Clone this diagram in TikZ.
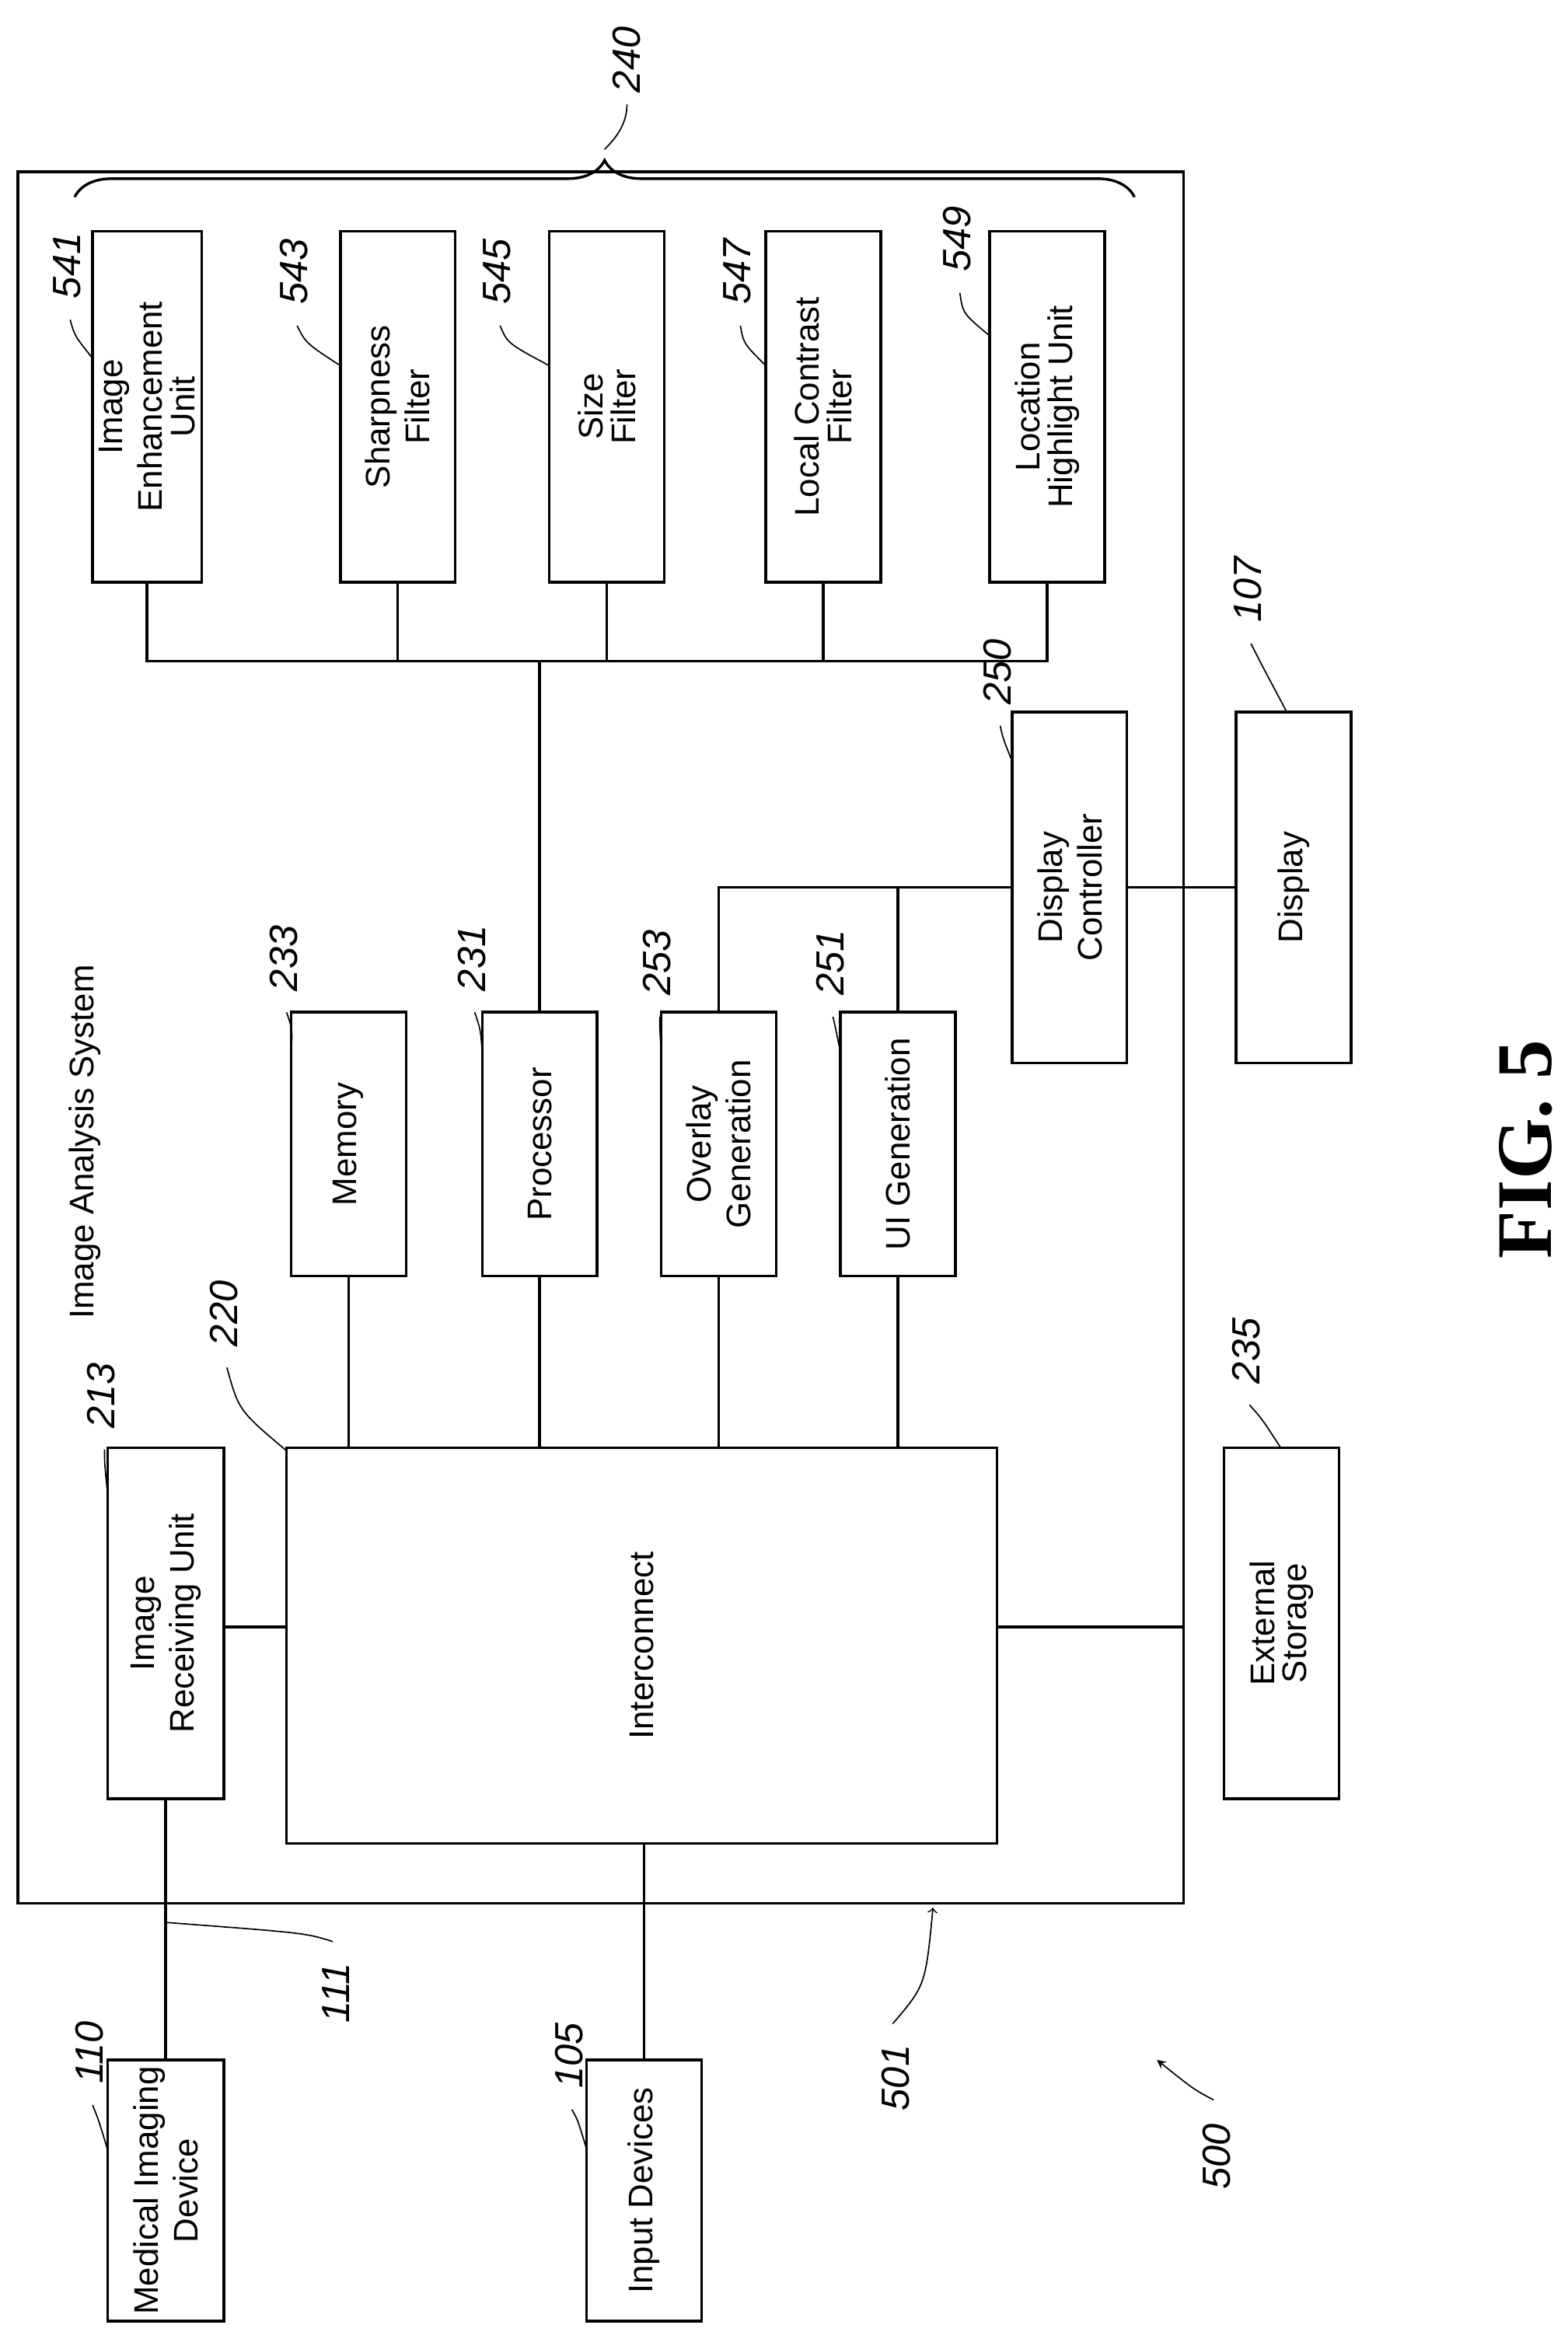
\documentclass[tikz,border=0pt]{standalone}
\usepackage{fontspec}
\setmainfont{Liberation Sans}
\usetikzlibrary{calc,decorations.pathreplacing}

\tikzset{
  box/.style={draw, line width=1pt, inner sep=0pt, font=\fontsize{13}{15}\selectfont},
  num/.style={rotate=90, font=\fontsize{15}{15}\selectfont\itshape},
  lead/.style={line width=0.5pt},
}
% block from (x1,y1) to (x2,y2) in picture pixels, text turned upright-left
\newcommand\blk[6]{%
  \node[box, minimum width={(#4-#2)*0.02cm}, minimum height={(#5-#3)*0.02cm}]
    (#1) at ({(#2+#4)/2},{-(#3+#5)/2}) {\rotatebox{90}{\shortstack{#6}}};}

\begin{document}
\begin{tikzpicture}[x=0.02cm,y=0.02cm]
    \useasboundingbox (0,0) rectangle (1050,-1567);

    % outer system box
    \node[box, minimum width={781*0.02cm}, minimum height={1160*0.02cm}] (sys) at (402.5,-695) {};
    \node[rotate=90, font=\fontsize{13}{15}\selectfont] (sysl) at (57,-765) {Image Analysis System};

    % filters
    \blk{ieu}{62}{155}{135}{390}{Image\\Enhancement\\Unit}
    \blk{shf}{228}{155}{305}{390}{Sharpness\\Filter}
    \blk{szf}{368}{155}{445}{390}{Size\\Filter}
    \blk{lcf}{513}{155}{590}{390}{Local Contrast\\Filter}
    \blk{lhu}{663}{155}{740}{390}{Location\\Highlight Unit}

    % middle blocks
    \blk{mem}{195}{678}{272}{855}{Memory}
    \blk{proc}{323}{678}{400}{855}{Processor}
    \blk{ovl}{443}{678}{520}{855}{Overlay\\Generation}
    \blk{uig}{563}{678}{640}{855}{UI Generation}
    \blk{dc}{678}{477}{755}{712}{Display\\Controller}
    \blk{disp}{828}{477}{905}{712}{Display}

    \blk{ic}{192}{970}{668}{1235}{Interconnect}
    \blk{iru}{72}{970}{150}{1205}{Image\\Receiving Unit}
    \blk{ext}{820}{970}{897}{1205}{External\\Storage}
    \blk{mid}{72}{1380}{150}{1555}{Medical Imaging\\Device}
    \blk{inp}{393}{1380}{470}{1555}{Input Devices}

    % bus
    \coordinate (bus) at (0,-443);
    \draw[line width=1pt] (ieu.south) |- (lhu.south |- bus) -- (lhu.south);
    \foreach \b in {shf,szf,lcf}
      \draw[line width=1pt] (\b.south) -- (\b.south |- bus);
    \draw[line width=1pt] (proc.north) -- (proc.north |- bus);

    \foreach \b in {mem,proc,ovl,uig}
      \draw[line width=1pt] (\b.south) -- (\b.south |- ic.north);
    \draw[line width=1pt] (ovl.north) |- (dc.west);
    \draw[line width=1pt] (uig.north) -- (uig.north |- dc.west);
    \draw[line width=1pt] (dc.east) -- (disp.west);

    \coordinate (icy) at (0,-1090);
    \draw[line width=1pt] (iru.east |- icy) -- (ic.west |- icy);
    \draw[line width=1pt] (ic.east |- icy) -- (sys.east |- icy);
    \draw[line width=1pt] (iru.south) -- (mid.north);
    \draw[line width=1pt] (inp.north) -- (inp.north |- ic.south);

    % brace
    \draw[line width=1pt, decorate, decoration={brace, amplitude=14pt}]
      (50,-132) -- (760,-132);
    \node[num] (n240) at (420,-40) {240};
    \draw[lead] (420,-70) .. controls (420,-85) and (410,-95) .. (405,-100);

    % reference numerals
    \node[num] (n541) at (45,-178) {541};
    \draw[lead] (n541.west) ++(2,-8) .. controls (50,-225) .. (62,-240);
    \node[num] (n543) at (197,-182) {543};
    \draw[lead] (n543.west) ++(2,-8) .. controls (205,-230) .. (228,-245);
    \node[num] (n545) at (333,-182) {545};
    \draw[lead] (n545.west) ++(2,-8) .. controls (340,-230) .. (368,-245);
    \node[num] (n547) at (494,-182) {547};
    \draw[lead] (n547.west) ++(2,-8) .. controls (498,-230) .. (513,-245);
    \node[num] (n549) at (641,-160) {549};
    \draw[lead] (n549.west) ++(2,-8) .. controls (645,-210) .. (663,-225);

    \node[num] (n233) at (190,-642) {233};
    \draw[lead] (n233.west) ++(2,-8) .. controls (196,-690) .. (195,-705);
    \node[num] (n231) at (316,-642) {231};
    \draw[lead] (n231.west) ++(2,-8) .. controls (322,-690) .. (323,-705);
    \node[num] (n253) at (440,-645) {253};
    \draw[lead] (n253.west) ++(2,-8) .. controls (442,-690) .. (443,-705);
    \node[num] (n251) at (556,-645) {251};
    \draw[lead] (n251.west) ++(2,-8) .. controls (560,-690) .. (563,-705);
    \node[num] (n250) at (668,-450) {250};
    \draw[lead] (n250.west) ++(2,-8) .. controls (672,-495) .. (678,-510);
    \node[num] (n107) at (836,-395) {107};
    \draw[lead] (n107.west) ++(2,-8) .. controls (845,-445) .. (862,-477);

    \node[num] (n220) at (150,-880) {220};
    \draw[lead] (n220.west) ++(2,-8) .. controls (160,-945) .. (192,-972);
    \node[num] (n213) at (68,-935) {213};
    \draw[lead] (n213.west) ++(2,-8) .. controls (70,-980) .. (72,-1000);
    \node[num] (n235) at (835,-905) {235};
    \draw[lead] (n235.west) ++(2,-8) .. controls (845,-950) .. (858,-970);

    \node[num] (n110) at (60,-1375) {110};
    \draw[lead] (n110.west) ++(2,-8) .. controls (66,-1420) .. (72,-1440);
    \node[num] (n111) at (225,-1335) {111};
    \draw[lead] (n111.east) ++(-2,8) .. controls (205,-1295) .. (112,-1288);
    \node[num] (n105) at (381,-1377) {105};
    \draw[lead] (n105.west) ++(2,-8) .. controls (387,-1420) .. (393,-1440);
    \node[num] (n501) at (600,-1392) {501};
    \draw[lead, ->] (n501.east) ++(-2,8) .. controls (620,-1330) .. (625,-1278);
    \node[num] (n500) at (815,-1445) {500};
    \draw[lead, ->, >=stealth] (n500.east) ++(-2,10) .. controls (800,-1400) .. (775,-1380);

    \node[rotate=90, font=\fontsize{30}{30}\bfseries\selectfont\fontspec{Liberation Serif}] (fig) at (1022,-770) {FIG. 5};
\end{tikzpicture}
\end{document}
